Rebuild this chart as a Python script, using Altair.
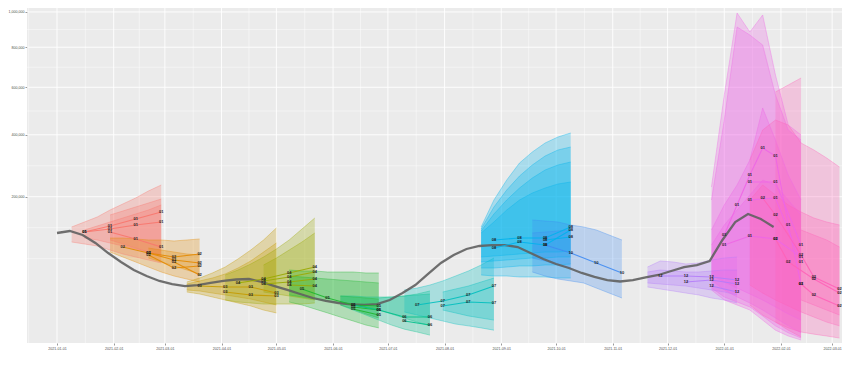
import altair as alt
import pandas as pd

# ---------------- observed series (thousands), weekly from 2021-01-01 ----------------
obs_start = "2021-01-01"
obs_k = [114.7, 118.8, 110.7, 95.4, 77.7, 63.4, 52.0, 44.1, 38.1, 34.6, 32.4, 33.5, 35.8,
         38.1, 39.8, 40.4, 36.9, 32.4, 28.3, 24.4, 20.8, 18.3, 16.7, 15.6, 15.2, 15.9, 19.1,
         25.3, 33.5, 46.7, 62.0, 74.5, 84.6, 89.9, 91.6, 91.6, 88.1, 77.7, 68.1, 60.5, 54.7,
         48.0, 42.9, 39.2, 37.5, 39.2, 42.3, 45.4, 50.6, 56.1, 59.0, 65.0, 101.0, 138.0,
         156.4, 144.8, 127.2]

# ---------------- forecast groups (values in thousands) ----------------
group_keys = ["g01", "g02", "g03", "g04", "g05", "g06", "g07", "g08", "g09", "g10", "g11", "g12"]
group_labels = ["01", "02", "03", "04", "05", "06", "07", "08", "10", "12", "01", "02"]
group_colors = ["#F8766D", "#E38900", "#C49A00", "#99A800", "#1DB62E", "#00C08B",
                "#00BFBE", "#00B2EC", "#3F8BF2", "#B47CFA", "#EE66E6", "#FF62B8"]
group_starts = ["2021-01-09", "2021-01-30", "2021-03-13", "2021-04-03", "2021-05-08",
                "2021-06-05", "2021-07-10", "2021-08-21", "2021-09-18", "2021-11-20",
                "2021-12-25", "2022-01-15"]

red_off = [0, 3, 1]
red_hi = [[127.2, 138.1, 149.4, 166.0, 181.0, 196.6, 215.6, 232.6],
          [154.1, 163.6, 173.4, 183.5, 193.9],
          [120.9, 129.3, 138.1, 147.1, 156.4, 166.0, 178.5]]
red_lo = [[97.2, 93.5, 89.9, 82.8, 76.1, 71.2, 66.5, 62.0],
          [101.0, 93.5, 86.3, 79.4, 72.8],
          [104.8, 101.0, 95.3, 89.9, 84.6, 79.4, 74.4]]
red_wk = [[1, 3, 5, 7], [1, 3, 5, 7], [3, 5, 7]]
red_med = [[116.7, 129.3, 144.8, 161.2], [116.7, 122.9, 131.5, 138.1], [116.7, 102.9, 88.1]]

orange_off = [0, 3]
orange_hi = [[104.8, 104.8, 102.9, 101.0, 101.0, 99.1, 101.0, 102.9],
             [86.3, 82.8, 79.4, 76.1, 74.4]]
orange_lo = [[79.4, 71.2, 63.5, 56.1, 49.3, 44.1, 40.4, 36.9],
             [69.6, 63.5, 57.6, 52.0, 46.7]]
orange_wk = [[1, 3, 5, 7], [3, 5, 7], [3, 5, 7], [5, 7]]
orange_med = [[88.1, 77.8, 71.2, 76.1], [77.8, 66.5, 62.0], [74.4, 54.7, 57.6], [63.5, 45.4]]

yellow_off = [0, 0]
yellow_hi = [[36.9, 41.6, 48.0, 56.1, 68.1, 82.8, 101.0, 125.1],
             [34.6, 38.1, 41.6, 46.7, 54.7, 65.0, 79.4, 95.3]]
yellow_lo = [[26.3, 24.4, 21.7, 19.1, 16.7, 14.5, 11.7, 9.9],
             [28.3, 27.3, 25.3, 23.5, 21.7, 19.9, 17.5, 15.2]]
yellow_wk = [[1, 3, 5, 7], [3, 5, 7]]
yellow_med = [[32.4, 31.4, 31.4, 25.3], [26.3, 23.5, 22.6]]

olive_off = [0, 3]
olive_hi = [[45.4, 52.0, 60.5, 71.2, 84.6, 101.0, 122.9, 147.1],
            [59.0, 69.6, 82.8, 97.2, 114.7]]
olive_lo = [[19.1, 17.5, 16.7, 15.9, 15.9, 15.9, 15.9, 16.7],
            [26.3, 24.4, 22.6, 20.8, 19.1]]
olive_wk = [[1, 3, 5, 7], [3, 5, 7], [3, 5, 7], [5, 7]]
olive_med = [[35.8, 40.4, 48.0, 56.1], [38.1, 42.9, 49.3], [34.6, 36.9, 40.4], [33.5, 32.4]]

green_off = [0, 0, 4]
green_hi = [[52.0, 50.6, 50.6, 49.3, 49.3, 49.3, 48.0, 48.0],
            [44.1, 42.9, 41.6, 40.4, 39.2, 38.1, 36.9, 35.8],
            [22.6, 21.7, 20.8, 19.9]]
green_lo = [[17.5, 15.2, 12.4, 9.9, 7.6, 5.7, 4.0, 3.0],
            [23.5, 21.7, 19.9, 18.3, 16.7, 15.2, 13.8, 12.4],
            [15.2, 12.4, 9.3, 7.1]]
green_wk = [[1, 3, 5, 7], [5, 7], [5, 7]]
green_med = [[29.3, 20.8, 15.2, 14.5], [13.8, 11.7], [12.4, 8.7]]

tgreen_off = [0, 3]
tgreen_hi = [[22.6, 22.6, 21.7, 21.7, 21.7, 22.6, 23.5, 24.4],
             [20.8, 21.7, 22.6, 24.4, 27.3]]
tgreen_lo = [[15.2, 11.7, 8.7, 6.1, 4.0, 2.6, 1.8, 1.1],
             [11.7, 9.3, 7.1, 5.2, 3.7]]
tgreen_wk = [[1, 3, 5, 7], [5, 7]]
tgreen_med = [[15.2, 11.7, 7.6, 7.6], [5.7, 4.0]]

teal_off = [0, 3]
teal_hi = [[28.3, 30.3, 33.5, 38.1, 44.1, 50.6, 59.0, 69.6],
           [26.3, 29.3, 32.4, 36.9, 41.6]]
teal_lo = [[10.5, 8.7, 7.1, 5.7, 4.4, 3.7, 3.0, 2.3],
           [11.7, 9.9, 8.2, 7.1, 6.1]]
teal_wk = [[1, 3, 5, 7], [3, 5, 7]]
teal_med = [[15.2, 18.3, 23.5, 32.4], [14.5, 17.5, 16.7]]

cyan_off = [0, 0, 0, 0]
cyan_hi = [[127.2, 191.3, 247.2, 300.4, 337.6, 369.6, 391.7, 406.9],
           [122.9, 173.4, 218.4, 259.3, 293.9, 323.8, 344.6, 355.2],
           [118.8, 156.4, 191.3, 224.0, 253.2, 277.9, 293.9, 303.7],
           [114.7, 138.1, 166.0, 191.3, 210.1, 224.0, 235.5, 241.3]]
cyan_lo = [[45.4, 44.1, 44.1, 42.9, 42.9, 42.9, 41.6, 41.6],
           [54.7, 54.7, 56.1, 57.6, 57.6, 59.0, 59.0, 60.5],
           [63.5, 65.0, 66.5, 68.1, 69.6, 69.6, 71.2, 71.2],
           [71.2, 72.8, 74.4, 76.1, 77.8, 79.4, 79.4, 81.1]]
cyan_wk = [[1, 3, 5, 7], [1, 3, 5, 7], [5, 7]]
cyan_med = [[101.0, 104.8, 104.8, 127.2], [86.3, 97.2, 91.7, 120.9], [101.0, 106.7]]

blue_off = [0, 0]
blue_hi = [[142.6, 140.3, 138.1, 131.5, 127.2, 120.9, 110.7, 101.0],
           [114.7, 116.7, 118.8, 120.9]]
blue_lo = [[49.3, 44.1, 40.4, 38.1, 35.8, 30.3, 25.3, 20.8],
           [69.6, 65.0, 59.0, 54.7]]
blue_wk = [[1, 3, 5, 7]]
blue_med = [[91.7, 77.8, 62.0, 48.0]]

purple_off = [0, 0]
purple_hi = [[56.1, 65.0, 63.5, 60.5, 62.0, 66.5, 69.6, 71.2],
             [49.3, 52.0, 50.6, 49.3, 49.3, 50.6, 52.0, 52.0]]
purple_lo = [[31.4, 29.3, 27.3, 25.3, 23.5, 20.8, 19.1, 16.7],
             [35.8, 34.6, 33.5, 32.4, 30.3, 28.3, 26.3, 23.5]]
purple_wk = [[1, 3, 5, 7], [3, 5, 7], [5, 7]]
purple_med = [[44.1, 44.1, 42.9, 39.2], [36.9, 39.2, 34.6], [32.4, 26.3]]

magenta_off = [0, 0, 0, 0]
magenta_hi = [[226.9, 564.8, 993.8, 883.6, 981.9, 658.3, 438.0, 399.3],
              [191.3, 458.0, 912.0, 866.8, 812.0, 564.8, 418.4, 380.6],
              [120.9, 178.5, 232.6, 310.3, 507.9, 380.6, 262.3, 191.3],
              [91.7, 131.5, 166.0, 204.6, 247.2, 232.6, 191.3, 154.1]]
magenta_lo = [[28.3, 19.1, 15.2, 11.7, 6.1, 2.3, 0.93, 0.34],
              [30.3, 21.7, 17.5, 13.8, 8.2, 3.7, 1.6, 0.6],
              [39.2, 28.3, 21.7, 16.7, 11.7, 7.1, 3.7, 1.6],
              [45.4, 36.9, 30.3, 24.4, 19.1, 13.8, 9.3, 6.1]]
magenta_wk = [[1, 2, 3, 4, 5, 6, 7], [1, 3, 5, 7], [3, 5, 7], [3, 5, 7]]
magenta_med = [[110.7, 178.5, 262.3, 351.6, 323.8, 131.5, 34.6],
               [91.7, 108.7, 102.9, 71.2], [241.3, 241.3, 91.7], [191.3, 196.6, 63.5]]

pink_off = [2, 0, 0, 4]
pink_hi = [[578.4, 610.7, 643.8],
           [310.3, 418.4, 458.0, 438.0, 369.6, 344.6, 317.0, 287.4],
           [191.3, 232.6, 204.6, 178.5, 161.2, 147.1, 138.1, 131.5],
           [120.9, 110.7, 101.0, 88.1]]
pink_lo = [[5.2, 2.3, 0.76],
           [15.2, 8.7, 5.2, 3.0, 1.8, 1.3, 0.93, 0.6],
           [33.5, 25.3, 19.1, 14.5, 10.5, 7.6, 5.2, 3.7],
           [19.1, 15.2, 11.7, 8.7]]
pink_wk = [[1, 2, 4, 5, 7], [2, 3, 5, 7], [4, 5, 7]]
pink_med = [[196.6, 154.1, 74.4, 42.9, 29.3], [102.9, 63.5, 40.4, 25.3], [34.6, 23.5, 14.5]]

group_data = [
    (red_off, red_hi, red_lo, red_wk, red_med),
    (orange_off, orange_hi, orange_lo, orange_wk, orange_med),
    (yellow_off, yellow_hi, yellow_lo, yellow_wk, yellow_med),
    (olive_off, olive_hi, olive_lo, olive_wk, olive_med),
    (green_off, green_hi, green_lo, green_wk, green_med),
    (tgreen_off, tgreen_hi, tgreen_lo, tgreen_wk, tgreen_med),
    (teal_off, teal_hi, teal_lo, teal_wk, teal_med),
    (cyan_off, cyan_hi, cyan_lo, cyan_wk, cyan_med),
    (blue_off, blue_hi, blue_lo, blue_wk, blue_med),
    (purple_off, purple_hi, purple_lo, purple_wk, purple_med),
    (magenta_off, magenta_hi, magenta_lo, magenta_wk, magenta_med),
    (pink_off, pink_hi, pink_lo, pink_wk, pink_med),
]

# axis breaks
y_breaks = [200000, 400000, 600000, 800000, 1000000]
y_minor = [68600, 125700, 291400, 495000, 696400, 897000]
month_breaks = pd.date_range("2021-01-01", "2022-03-01", freq="MS")

# ---------------- build tables ----------------
week = pd.Timedelta(days=7)
area_rows, edge_rows, med_rows = [], [], []
for gi, (offs, his, los, wks, meds) in enumerate(group_data):
    g = group_keys[gi]
    s = pd.Timestamp(group_starts[gi])
    for ri, (o, hi, lo) in enumerate(zip(offs, his, los)):
        rid = f"{g}_r{ri}"
        for j, (h, l) in enumerate(zip(hi, lo)):
            d = s + week * (o + j)
            area_rows.append(dict(grp=g, rid=rid, date=d, lo=l * 1000, hi=h * 1000))
            edge_rows.append(dict(grp=g, eid=rid + "h", date=d, v=h * 1000))
            edge_rows.append(dict(grp=g, eid=rid + "l", date=d, v=l * 1000))
    for mi, (wk, vals) in enumerate(zip(wks, meds)):
        mid = f"{g}_m{mi}"
        for w, v in zip(wk, vals):
            med_rows.append(dict(grp=g, mid=mid, date=s + week * w, v=v * 1000,
                                 lab=group_labels[gi]))

area_df = pd.DataFrame(area_rows)
edge_df = pd.DataFrame(edge_rows)
med_df = pd.DataFrame(med_rows)
obs_df = pd.DataFrame(dict(date=pd.date_range(obs_start, periods=len(obs_k), freq="7D"),
                           v=[k * 1000 for k in obs_k]))

vmaj_df = pd.DataFrame(dict(date=month_breaks))
mids = [month_breaks[0] - (month_breaks[1] - month_breaks[0]) / 2] + \
       [month_breaks[i] + (month_breaks[i + 1] - month_breaks[i]) / 2 for i in range(len(month_breaks) - 1)]
vmin_df = pd.DataFrame(dict(date=mids))
hmaj_df = pd.DataFrame(dict(v=y_breaks))
hmin_df = pd.DataFrame(dict(v=y_minor))

# ---------------- scales / axes ----------------
xscale = alt.Scale(domain=[alt.DateTime(year=2020, month=12, date=15, hours=14),
                           alt.DateTime(year=2022, month=3, date=6, hours=9, minutes=36)])
xaxis = alt.Axis(values=[alt.DateTime(year=d.year, month=d.month, date=1) for d in month_breaks],
                 format="%Y-%m-%d", labelFontSize=3.6, labelColor="#4D4D4D",
                 labelFont="Liberation Sans", tickColor="#333333", tickSize=2,
                 tickWidth=0.5, labelPadding=1.5, grid=False, domain=False, title=None,
                 labelOverlap=False, labelFlush=False)
yscale = alt.Scale(type="sqrt", domain=[92, 1023700], nice=False, zero=False)
yaxis = alt.Axis(values=y_breaks, labelExpr="format(datum.value, ',')",
                 labelFontSize=3.6, labelColor="#4D4D4D",
                 labelFont="Liberation Sans", tickColor="#333333", tickSize=2,
                 tickWidth=0.5, labelPadding=1, grid=False, domain=False, title=None)


def X(field="date"):
    return alt.X(f"{field}:T", scale=xscale, axis=xaxis)


def Y(field="v"):
    return alt.Y(f"{field}:Q", scale=yscale, axis=yaxis)


color = alt.Color("grp:N", scale=alt.Scale(domain=group_keys, range=group_colors), legend=None)

hmin = alt.Chart(hmin_df).mark_rule(color="white", strokeWidth=0.45).encode(y=Y())
hmaj = alt.Chart(hmaj_df).mark_rule(color="white", strokeWidth=0.9).encode(y=Y())
vmin = alt.Chart(vmin_df).mark_rule(color="white", strokeWidth=0.45).encode(x=X())
vmaj = alt.Chart(vmaj_df).mark_rule(color="white", strokeWidth=0.9).encode(x=X())

areas = alt.Chart(area_df).mark_area(opacity=0.28).encode(
    x=X(), y=Y("lo"), y2="hi:Q", color=color, detail="rid:N")
edges = alt.Chart(edge_df).mark_line(strokeWidth=0.6, opacity=0.6).encode(
    x=X(), y=Y(), color=color, detail="eid:N")
meds = alt.Chart(med_df).mark_line(strokeWidth=1.1, opacity=0.9).encode(
    x=X(), y=Y(), color=color, detail="mid:N")
obs = alt.Chart(obs_df).mark_line(color="#616161", strokeWidth=2.3, opacity=0.9).encode(
    x=X(), y=Y())
labels = alt.Chart(med_df).mark_text(fontSize=4, color="#1F1F1F", font="Liberation Sans",
                                     fontWeight="bold").encode(x=X(), y=Y(), text="lab:N")

chart = alt.layer(hmin, hmaj, vmin, vmaj, areas, edges, obs, meds, labels).properties(
    width=815, height=335, background="white",
    padding={"left": 19, "top": 0, "right": 0, "bottom": 8},
    autosize=alt.AutoSizeParams(type="none"),
).configure_view(fill="#EBEBEB", strokeWidth=0)

chart.save("out.html", embed_options={"renderer": "svg", "actions": False})
